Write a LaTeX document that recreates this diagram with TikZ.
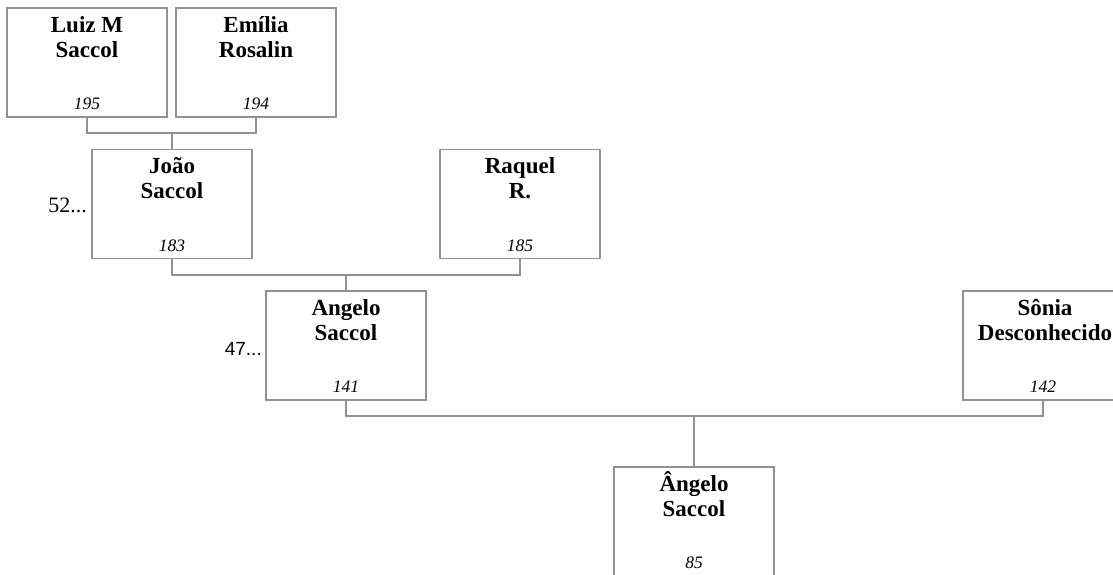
\documentclass[tikz,border=0pt]{standalone}
\usepackage{fontspec}
\setmainfont{Liberation Serif}
\newfontfamily\arialfont{Liberation Sans}
\definecolor{boxgray}{RGB}{145,145,145}
\begin{document}
\begin{tikzpicture}[x=1pt,y=1pt,
  person/.style={draw=boxgray, line width=1.3pt, minimum width=160pt, minimum height=109pt, inner sep=0pt, fill=white},
  pname/.style={anchor=base, inner sep=0pt, font=\fontsize{23}{25}\selectfont\bfseries},
  pnum/.style={anchor=base, inner sep=0pt, font=\fontsize{17.5}{20}\selectfont\itshape},
  link/.style={draw=boxgray, line width=1.3pt},
  more/.style={anchor=base east, inner sep=0pt, font=\fontsize{22}{24}\selectfont}]
\useasboundingbox (0,0) rectangle (1113,-575);
% boxes
\node[person] (luiz)   at (87,-62.5)   {};
\node[person] (emilia) at (256,-62.5)  {};
\node[person] (joao)   at (172,-204)   {};
\node[person] (raquel) at (520,-204)   {};
\node[person] (angelo) at (346,-345.5) {};
\node[person] (sonia)  at (1043,-345.5){};
\node[person] (angelo2) at (694,-521.5){};
% connectors
\coordinate (j1) at (172,-133);
\coordinate (j2) at (346,-275);
\coordinate (j3) at (694,-416);
\draw[link] (luiz.south) |- (j1) -| (emilia.south);
\draw[link] (j1) -- (joao.north);
\draw[link] (joao.south) |- (j2) -| (raquel.south);
\draw[link] (j2) -- (angelo.north);
\draw[link] (angelo.south) |- (j3) -| (sonia.south);
\draw[link] (j3) -- (angelo2.north);
% names
\node[pname] (luizA) at ([yshift=-25]luiz.north) {Luiz M};
\node[pname] (luizB) at ([yshift=-50]luiz.north) {Saccol};
\node[pnum]  (luizN) at ([yshift=8]luiz.south) {195};
\node[pname] (emiliaA) at ([yshift=-25]emilia.north) {Emília};
\node[pname] (emiliaB) at ([yshift=-50]emilia.north) {Rosalin};
\node[pnum]  (emiliaN) at ([yshift=8]emilia.south) {194};
\node[pname] (joaoA) at ([yshift=-25]joao.north) {João};
\node[pname] (joaoB) at ([yshift=-50]joao.north) {Saccol};
\node[pnum]  (joaoN) at ([yshift=8]joao.south) {183};
\node[pname] (raquelA) at ([yshift=-25]raquel.north) {Raquel};
\node[pname] (raquelB) at ([yshift=-50]raquel.north) {R.};
\node[pnum]  (raquelN) at ([yshift=8]raquel.south) {185};
\node[pname] (angeloA) at ([yshift=-25]angelo.north) {Angelo};
\node[pname] (angeloB) at ([yshift=-50]angelo.north) {Saccol};
\node[pnum]  (angeloN) at ([yshift=8]angelo.south) {141};
\node[pname] (soniaA) at ([xshift=2,yshift=-25]sonia.north) {Sônia};
\node[pname] (soniaB) at ([xshift=2,yshift=-50]sonia.north) {Desconhecido};
\node[pnum]  (soniaN) at ([yshift=8]sonia.south) {142};
\node[pname] (angelo2A) at ([yshift=-25]angelo2.north) {Ângelo};
\node[pname] (angelo2B) at ([yshift=-50]angelo2.north) {Saccol};
\node[pnum]  (angelo2N) at (694,-568) {85};
% side labels
\node[more] (m52) at (87,-212) {52...};
\node[more, font=\fontsize{19}{22}\selectfont\arialfont] (m47) at (262,-355) {47...};
\end{tikzpicture}
\end{document}
